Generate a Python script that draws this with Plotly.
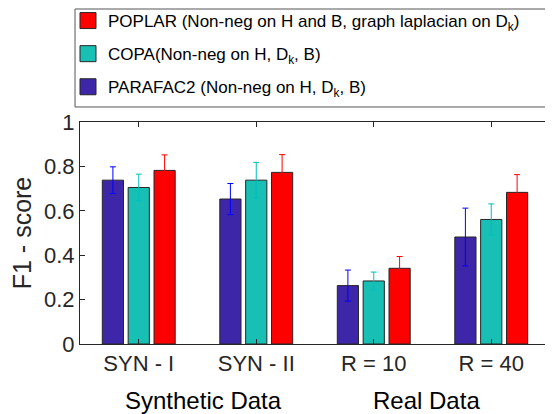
import plotly.graph_objects as go

categories = ["SYN - I", "SYN - II", "R = 10", "R = 40"]
group_labels = ["Synthetic Data", "Real Data"]
series_names = [
    "PARAFAC2 (Non-neg on H, D<sub>k</sub>, B)",
    "COPA(Non-neg on H, D<sub>k</sub>, B)",
    "POPLAR (Non-neg on H and B, graph laplacian on D<sub>k</sub>)",
]
parafac2 = [0.738, 0.653, 0.263, 0.482]
parafac2_err = [0.06, 0.07, 0.07, 0.13]
copa = [0.705, 0.738, 0.284, 0.561]
copa_err = [0.06, 0.08, 0.04, 0.07]
poplar = [0.782, 0.773, 0.341, 0.683]
poplar_err = [0.07, 0.08, 0.053, 0.08]

fill_colors = ["#3e26a8", "#17bfb4", "#ff0000"]
err_colors = ["#0000ff", "#00bfbf", "#ff0000"]

fig = go.Figure()
for i, (name, vals, errs) in enumerate(zip(series_names, [parafac2, copa, poplar],
                                             [parafac2_err, copa_err, poplar_err])):
    fig.add_trace(go.Bar(
        x=list(range(len(categories))), y=vals, name=name,
        legendgroup=f"g{i}", showlegend=False,
        marker=dict(color=fill_colors[i], line=dict(color="#262626", width=1)),
        error_y=dict(type="data", array=errs, color=err_colors[i], thickness=1, width=3),
    ))
    # larger square legend key for the same series
    fig.add_trace(go.Scatter(
        x=[None], y=[None], mode="markers", name=name,
        legendgroup=f"g{i}", legendrank=3 - i, hoverinfo="skip",
        marker=dict(symbol="square", size=24, color=fill_colors[i],
                    line=dict(color="#262626", width=1)),
    ))

font = "Liberation Sans, Arial, Helvetica, sans-serif"
# the page adds an 8px body margin, so the figure is drawn 8px smaller and shifted
fig.update_layout(
    width=545, height=406,
    margin=dict(l=72, r=3, t=114, b=70, autoexpand=False),
    paper_bgcolor="white", plot_bgcolor="white",
    barmode="group", bargap=0.34, bargroupgap=0.18,
    font=dict(family=font, color="#262626"),
    showlegend=True,
    legend=dict(
        x=-0.0255, y=1.536, xanchor="left", yanchor="top",
        tracegroupgap=8, itemwidth=30, itemsizing="trace",
        borderwidth=0, bgcolor="rgba(0,0,0,0)",
        font=dict(size=17, family=font, color="#000000"),
    ),
    xaxis=dict(
        range=[-0.5, 3.5], tickmode="array", tickvals=list(range(len(categories))),
        ticktext=categories, ticks="inside", ticklen=5, tickcolor="#262626",
        showline=True, linecolor="#262626", linewidth=1, mirror="ticks",
        showgrid=False, zeroline=False, tickfont=dict(size=22),
    ),
    yaxis=dict(
        range=[0, 1], dtick=0.2, ticks="inside", ticklen=5, tickcolor="#262626",
        showline=True, linecolor="#262626", linewidth=1, mirror="ticks",
        showgrid=False, zeroline=False, tickfont=dict(size=22),
        title=dict(text="F1 - score", font=dict(size=25), standoff=6),
    ),
    shapes=[dict(type="rect", xref="paper", yref="paper",
                 x0=-0.0106, x1=1.02, y0=1.0676, y1=1.509,
                 line=dict(color="#555555", width=1), fillcolor="rgba(0,0,0,0)",
                 layer="below")],
)
for xc, lab in zip([0.55, 2.45], group_labels):
    fig.add_annotation(x=xc, y=-0.255, xref="x", yref="paper", text=lab,
                       showarrow=False, yanchor="middle", font=dict(size=24, color="#000000"))

fig.write_html("out.html")
